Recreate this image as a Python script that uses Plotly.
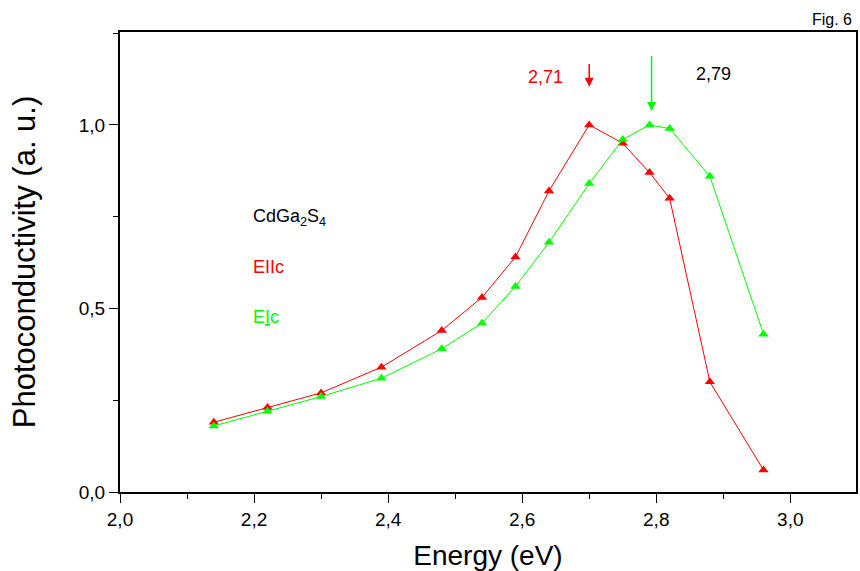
import plotly.graph_objects as go

energy = [2.14, 2.22, 2.30, 2.39, 2.48, 2.54, 2.59, 2.64, 2.70, 2.75, 2.79, 2.82, 2.88, 2.96]
pc_parallel = [0.19, 0.23, 0.27, 0.34, 0.44, 0.53, 0.64, 0.82, 1.00, 0.95, 0.87, 0.80, 0.30, 0.06]
pc_perp = [0.18, 0.22, 0.26, 0.31, 0.39, 0.46, 0.56, 0.68, 0.84, 0.96, 1.00, 0.99, 0.86, 0.43]

peak_parallel = 2.70
peak_perp = 2.79
RED = "#ff0000"
GREEN = "#00ff00"
FONT = "Liberation Sans, Arial, sans-serif"

fig = go.Figure()
fig.add_trace(go.Scatter(x=energy, y=pc_parallel, mode="lines+markers",
                         line=dict(color=RED, width=1),
                         marker=dict(symbol="triangle-up", size=9, color=RED),
                         showlegend=False))
fig.add_trace(go.Scatter(x=energy, y=pc_perp, mode="lines+markers",
                         line=dict(color=GREEN, width=1),
                         marker=dict(symbol="triangle-up", size=9, color=GREEN),
                         showlegend=False))

ann = []
# arrows
ann.append(dict(x=peak_parallel, y=1.104, ax=peak_parallel, ay=1.170, xref="x", yref="y",
                axref="x", ayref="y", showarrow=True, arrowhead=2, arrowsize=1.2,
                arrowwidth=1.5, arrowcolor=RED, text=""))
ann.append(dict(x=peak_perp + 0.003, y=1.038, ax=peak_perp + 0.003, ay=1.192, xref="x", yref="y",
                axref="x", ayref="y", showarrow=True, arrowhead=2, arrowsize=1.2,
                arrowwidth=1.5, arrowcolor=GREEN, text=""))
ann.append(dict(x=2.635, y=1.131, xref="x", yref="y", text="2,71", showarrow=False,
                font=dict(color=RED, size=18, family=FONT)))
ann.append(dict(x=2.885, y=1.139, xref="x", yref="y", text="2,79", showarrow=False,
                font=dict(color="black", size=18, family=FONT)))
ann.append(dict(x=2.196, y=0.747, xref="x", yref="y", text="CdGa<sub>2</sub>S<sub>4</sub>",
                showarrow=False, xanchor="left", font=dict(color="black", size=18, family=FONT)))
ann.append(dict(x=2.196, y=0.613, xref="x", yref="y", text="EIIc",
                showarrow=False, xanchor="left", font=dict(color=RED, size=18, family=FONT)))
ann.append(dict(x=2.196, y=0.477, xref="x", yref="y", text="E<u>I</u>c",
                showarrow=False, xanchor="left", font=dict(color=GREEN, size=18, family=FONT)))
ann.append(dict(x=1.0, y=1.0, xref="paper", yref="paper", text="Fig. 6", showarrow=False,
                xanchor="right", yanchor="bottom", yshift=2, xshift=-2,
                font=dict(color="black", size=16, family=FONT)))

fig.update_layout(
    width=860, height=571,
    margin=dict(l=120, r=2, t=32, b=79),
    paper_bgcolor="white", plot_bgcolor="white",
    separators=",.",
    font=dict(family=FONT, color="black", size=19),
    annotations=ann,
    xaxis=dict(range=[2.0, 3.098], dtick=0.2, tick0=2.0, tickformat=".1f",
               ticks="outside", ticklen=9, tickwidth=1, tickcolor="black",
               showline=True, linewidth=2, linecolor="black", mirror=True,
               showgrid=False, zeroline=False,
               minor=dict(dtick=0.1, ticks="outside", ticklen=5, tickcolor="black", showgrid=False),
               title=dict(text="Energy (eV)", font=dict(size=28, family=FONT), standoff=17),
               tickfont=dict(size=19, family=FONT)),
    yaxis=dict(range=[0, 1.253], dtick=0.5, tick0=0, tickformat=".1f",
               ticks="outside", ticklen=9, tickwidth=1, tickcolor="black",
               showline=True, linewidth=2, linecolor="black", mirror=True,
               showgrid=False, zeroline=False,
               minor=dict(dtick=0.25, ticks="outside", ticklen=5, tickcolor="black", showgrid=False),
               title=dict(text="Photoconductivity (a. u.)", font=dict(size=31, family=FONT), standoff=34),
               tickfont=dict(size=19, family=FONT)),
)

fig.write_html("out.html")
